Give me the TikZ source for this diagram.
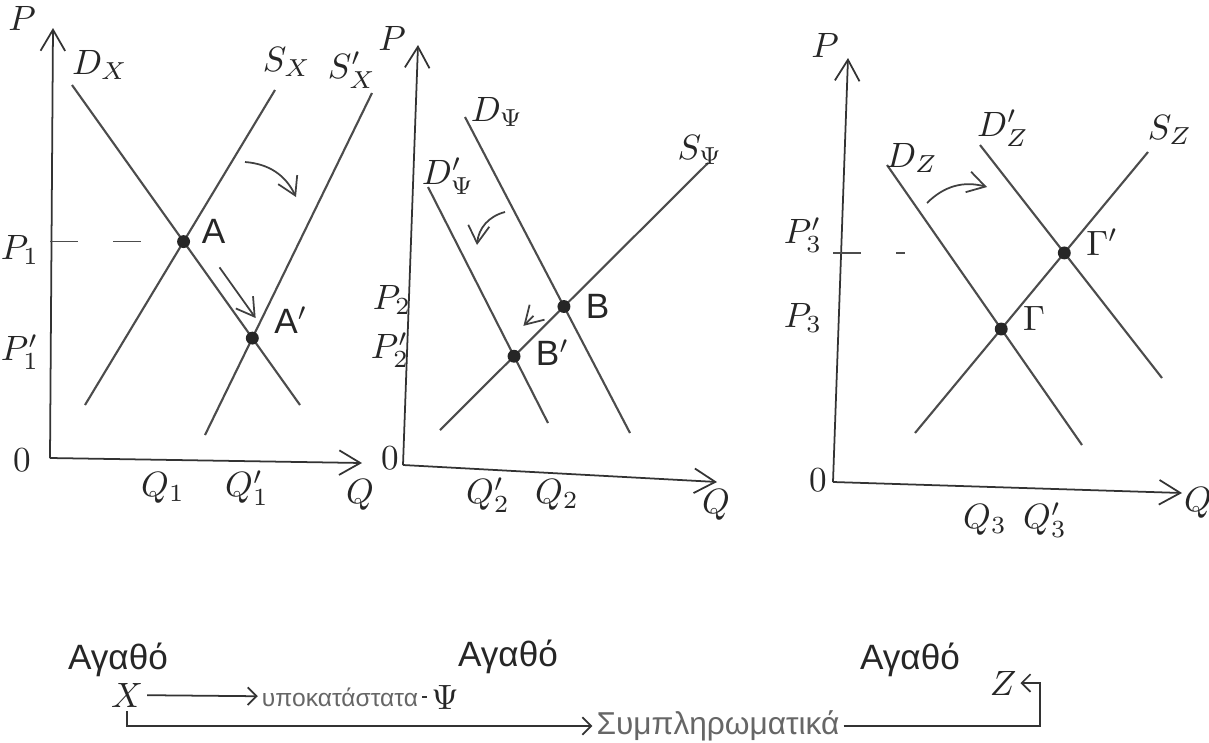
\documentclass[tikz,border=0pt]{standalone}
\usepackage{fontspec}
\setmainfont{Liberation Sans}
\usetikzlibrary{arrows.meta,positioning,intersections}

\begin{document}
\begin{tikzpicture}[
    x=0.01cm, y=-0.01cm,
    every node/.style={align=center},
    axis/.style={black!80, line width=0.5pt, -{Straight Barb[length=6pt,width=7pt]}},
    curve/.style={black!70, line width=0.6pt},
    guide/.style={black!70, line width=0.5pt, dash pattern=on 8pt off 10pt},
    eqpoint/.style={circle, fill=black!85, inner sep=1.3pt},
    lbl/.style={inner sep=1pt, text=black!85},
    shiftarrow/.style={black!75, line width=0.5pt, -{Straight Barb[length=5pt,width=6pt]}},
    link/.style={black!80, line width=0.5pt}
]
\useasboundingbox (0,0) rectangle (1209,742);

% Panel X
\coordinate (o1) at (50,458);
\draw[axis] (o1) -- (53,28);
\draw[axis] (o1) -- (362,463);
\node[lbl] (p1ax) at (22,18) {$P$};
\node[lbl] (zero1) at (22,460) {$0$};
\node[lbl] (q1ax) at (360,495) {$Q$};

\draw[curve, name path=dx] (72,85) -- (300,405);
\draw[curve, name path=sx] (85,405) -- (275,90);
\draw[curve, name path=sx2] (205,435) -- (372,93);
\node[lbl] (dxlab) at (100,65) {$D_X$};
\node[lbl] (sxlab) at (287,62) {$S_X$};
\node[lbl] (sx2lab) at (352,70) {$S'_X$};

\path[name intersections={of=dx and sx, by=ptA}];
\path[name intersections={of=dx and sx2, by=ptA2}];
\node[eqpoint] (A) at (ptA) {};
\node[eqpoint] (A2) at (ptA2) {};
\node[lbl, right=2pt of A, yshift=3pt] (Alab) {A};
\node[lbl, right=3pt of A2, yshift=5pt] (A2lab) {A$'$};

\draw[guide] (A -| o1) -- (A);
\node[lbl] (p1lab) at (20,250) {$P_1$};
\node[lbl] (p1plab) at (20,352) {$P'_1$};
\node[lbl] (q1lab) at (163,488) {$Q_1$};
\node[lbl] (q1plab) at (247,488) {$Q'_1$};

\draw[shiftarrow] (245,162) to[bend left=30] (296,197);
\draw[shiftarrow, shorten <=9pt, shorten >=7pt] ([xshift=5pt]A.center) -- ([xshift=5pt]A2.center);

% Panel Psi
\coordinate (o2) at (403,465);
\draw[axis] (o2) -- (418,45);
\draw[axis] (o2) -- (717,482);
\node[lbl] (p2ax) at (392,38) {$P$};
\node[lbl] (zero2) at (390,458) {$0$};
\node[lbl] (q2ax) at (716,505) {$Q$};

\draw[curve, name path=dy] (465,117) -- (630,433);
\draw[curve, name path=dy2] (428,187) -- (548,423);
\draw[curve, name path=sy] (440,430) -- (708,163);
\node[lbl] (dylab) at (497,112) {$D_\Psi$};
\node[lbl] (dy2lab) at (448,176) {$D'_\Psi$};
\node[lbl] (sylab) at (700,150) {$S_\Psi$};

\path[name intersections={of=dy and sy, by=ptB}];
\path[name intersections={of=dy2 and sy, by=ptB2}];
\node[eqpoint] (B) at (ptB) {};
\node[eqpoint] (B2) at (ptB2) {};
\node[lbl, right=3pt of B] (Blab) {B};
\node[lbl, right=3pt of B2, yshift=1pt] (B2lab) {B$'$};

\node[lbl] (p2lab) at (392,300) {$P_2$};
\node[lbl] (p2plab) at (390,350) {$P'_2$};
\node[lbl] (q2plab) at (488,495) {$Q'_2$};
\node[lbl] (q2lab) at (557,495) {$Q_2$};

\draw[shiftarrow] (505,212) to[bend right=35] (477,245);
\draw[shiftarrow, shorten <=8pt, shorten >=8pt] ([xshift=-3pt,yshift=3pt]B.center) -- ([xshift=-3pt,yshift=3pt]B2.center);

% Panel Z
\coordinate (o3) at (833,482);
\draw[axis] (o3) -- (848,58);
\draw[axis] (o3) -- (1182,493);
\node[lbl] (p3ax) at (825,45) {$P$};
\node[lbl] (zero3) at (818,480) {$0$};
\node[lbl] (q3ax) at (1198,503) {$Q$};

\draw[curve, name path=dz] (887,165) -- (1082,445);
\draw[curve, name path=dz2] (980,145) -- (1162,378);
\draw[curve, name path=sz] (915,433) -- (1148,152);
\node[lbl] (dzlab) at (912,158) {$D_Z$};
\node[lbl] (dz2lab) at (1003,128) {$D'_Z$};
\node[lbl] (szlab) at (1170,130) {$S_Z$};

\path[name intersections={of=dz and sz, by=ptG}];
\path[name intersections={of=dz2 and sz, by=ptG2}];
\node[eqpoint] (G) at (ptG) {};
\node[eqpoint] (G2) at (ptG2) {};
\node[lbl, right=3pt of G, yshift=3pt] (Glab) {$\Gamma$};
\node[lbl, right=3pt of G2, yshift=3pt] (G2lab) {$\Gamma'$};

\coordinate (p3end) at (905,0);
\draw[guide] (G2 -| o3) -- (G2 -| p3end);
\node[lbl] (p3plab) at (803,235) {$P'_3$};
\node[lbl] (p3lab) at (803,318) {$P_3$};
\node[lbl] (q3lab) at (985,520) {$Q_3$};
\node[lbl] (q3plab) at (1045,520) {$Q'_3$};

\draw[shiftarrow] (927,203) to[bend left=30] (987,187);

% Goods and relations
\node[lbl] (good1) at (118,660) {Αγαθό};
\node[lbl] (good2) at (508,657) {Αγαθό};
\node[lbl] (good3) at (910,660) {Αγαθό};

\node[lbl] (X) at (127,695) {$X$};
\node[lbl, font=\scriptsize, text=black!60] (subst) at (340,697) {υποκατάστατα};
\node[lbl] (Psi) at (445,697) {$\Psi$};
\node[lbl] (Z) at (1003,683) {$Z$};
\node[lbl, font=\small, text=black!60] (compl) at (718,726) {Συμπληρωματικά};
\coordinate (zcorner) at (1040,683);

\draw[link, ->, >=Straight Barb] (X) -- (subst);
\draw[link] (subst) -- (Psi);
\draw[link, ->, >=Straight Barb] (X.south) |- (compl.west);
\draw[link, ->, >=Straight Barb] (compl.east) -| (zcorner) -- (Z.east);

\end{tikzpicture}
\end{document}
